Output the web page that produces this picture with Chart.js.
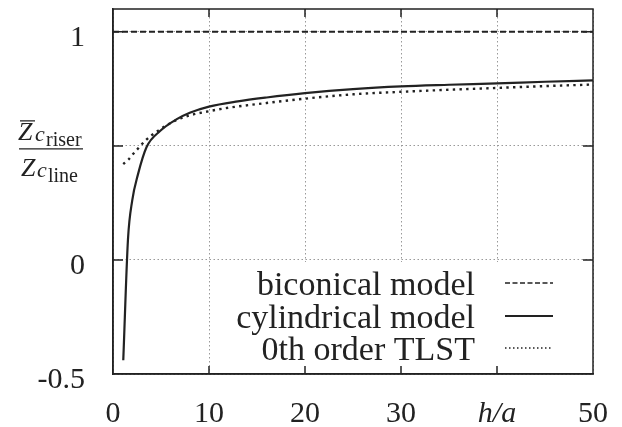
<!DOCTYPE html>
<html>
<head>
<meta charset="utf-8">
<script src="https://cdn.jsdelivr.net/npm/chart.js@4/dist/chart.umd.min.js"></script>
<style>
  html, body { margin: 0; padding: 0; background: #fff; }
  #wrap { width: 622px; height: 427px; }
</style>
</head>
<body>
<div id="wrap"><canvas id="chart" width="622" height="427"></canvas></div>
<script>
// h/a values and Zc ratio
let cylX = [1.07, 1.56, 2.0, 2.6, 3.5, 4.9, 6.6, 8, 10, 13, 16, 20, 25, 30, 35, 40, 45, 50];
let cylY = [-0.44, 0.09, 0.26, 0.375, 0.495, 0.565, 0.616, 0.645, 0.672, 0.695, 0.712, 0.731, 0.749, 0.761, 0.768, 0.774, 0.781, 0.787];
let tlstX = [1.07, 1.6, 2.0, 2.5, 3.0, 3.5, 4.0, 5.0, 6.6, 8, 10, 12, 15, 20, 25, 30, 35, 40, 45, 50];
let tlstY = [0.42, 0.44, 0.46, 0.483, 0.507, 0.528, 0.546, 0.575, 0.613, 0.634, 0.652, 0.667, 0.683, 0.707, 0.726, 0.737, 0.746, 0.754, 0.762, 0.769];
let biconX = [0, 50];
let biconY = [1, 1];

let xTicks = [0, 10, 20, 30, 40, 50];
let yTicks = [-0.5, 0, 0.5, 1];
let legendLabels = ["biconical model", "cylindrical model", "0th order TLST"];

const ink = '#222';
const serif = '"Liberation Serif", "DejaVu Serif", serif';

function pts(xs, ys) {
    return xs.map((x, i) => ({x: x, y: ys[i]}));
}

// gnuplot style frame, inner ticks, legend and the fraction label
const decor = {
    id: 'decor',
    beforeDatasetsDraw(chart) {
        const a = chart.chartArea, ctx = chart.ctx;
        let y0 = chart.scales.y.getPixelForValue(0);
        ctx.save();
        ctx.fillStyle = '#fff';
        ctx.fillRect(215, y0 + 2, a.right - 215 - 1, a.bottom - y0 - 3);
        ctx.restore();
    },
    afterDraw(chart) {
        const a = chart.chartArea, ctx = chart.ctx;
        const xs = chart.scales.x, ys = chart.scales.y;
        ctx.save();
        ctx.strokeStyle = ink;
        ctx.lineWidth = 1.5;
        ctx.strokeRect(a.left, a.top, a.right - a.left, a.bottom - a.top);
        ctx.beginPath();
        [10, 20, 30, 40].forEach(v => {
            let px = xs.getPixelForValue(v);
            ctx.moveTo(px, a.top); ctx.lineTo(px, a.top + 8);
            ctx.moveTo(px, a.bottom); ctx.lineTo(px, a.bottom - 8);
        });
        [0, 0.5, 1].forEach(v => {
            let py = ys.getPixelForValue(v);
            ctx.moveTo(a.left, py); ctx.lineTo(a.left + 10, py);
            ctx.moveTo(a.right, py); ctx.lineTo(a.right - 10, py);
        });
        ctx.stroke();

        // legend
        const rows = [285, 318, 350];
        const styles = [[5, 2.5], [], [1.5, 2.5]];
        ctx.fillStyle = ink;
        ctx.font = '34px ' + serif;
        ctx.textAlign = 'right';
        ctx.textBaseline = 'middle';
        legendLabels.forEach((t, i) => {
            ctx.fillText(t, 475, rows[i] + 1);
            ctx.beginPath();
            ctx.setLineDash(styles[i]);
            ctx.lineWidth = i === 1 ? 2 : 1.5;
            ctx.moveTo(505, rows[i] - 2); ctx.lineTo(553, rows[i] - 2);
            ctx.stroke();
        });
        ctx.setLineDash([]);

        // y label at 0.5: Zc_riser over Zc_line
        const bar = ys.getPixelForValue(0.5) + 3;
        ctx.textAlign = 'left';
        ctx.textBaseline = 'alphabetic';
        ctx.font = 'italic 26px ' + serif;
        ctx.fillText('Z', 18, bar - 9);
        ctx.font = 'italic 22px ' + serif;
        ctx.fillText('c', 35, bar - 8);
        ctx.font = '20px ' + serif;
        ctx.fillText('riser', 46, bar - 3);
        ctx.font = 'italic 26px ' + serif;
        ctx.fillText('Z', 21, bar + 27);
        ctx.font = 'italic 22px ' + serif;
        ctx.fillText('c', 37, bar + 28);
        ctx.font = '20px ' + serif;
        ctx.fillText('line', 48, bar + 33);
        ctx.lineWidth = 1.3;
        ctx.beginPath();
        ctx.moveTo(19, bar); ctx.lineTo(83, bar);
        ctx.moveTo(20, bar - 28); ctx.lineTo(35, bar - 28);
        ctx.stroke();
        ctx.restore();
    }
};

new Chart(document.getElementById('chart').getContext('2d'), {
    type: 'line',
    data: {
        datasets: [{
            label: legendLabels[0],
            data: pts(biconX, biconY),
            borderColor: ink,
            borderWidth: 2,
            borderDash: [6, 3],
            pointRadius: 0
        }, {
            label: legendLabels[1],
            data: pts(cylX, cylY),
            borderColor: ink,
            borderWidth: 2.2,
            pointRadius: 0,
            cubicInterpolationMode: 'monotone'
        }, {
            label: legendLabels[2],
            data: pts(tlstX, tlstY),
            borderColor: ink,
            borderWidth: 2.4,
            borderDash: [2.4, 4.3],
            pointRadius: 0,
            cubicInterpolationMode: 'monotone'
        }]
    },
    options: {
        responsive: false,
        animation: false,
        layout: {padding: {top: 9, right: 29, left: 0, bottom: 0}},
        plugins: {
            legend: {display: false},
            tooltip: {enabled: false}
        },
        scales: {
            x: {
                type: 'linear',
                min: 0,
                max: 50,
                afterBuildTicks: s => { s.ticks = xTicks.map(v => ({value: v})); },
                afterFit: s => { s.height = 53; s.paddingLeft = 0; s.paddingRight = 0; },
                grid: {color: '#999', lineWidth: 1, drawTicks: false},
                border: {display: true, color: ink, width: 1.5, dash: [1.5, 2.5]},
                ticks: {
                    color: ink,
                    padding: 22,
                    maxRotation: 0,
                    callback: v => v === 40 ? 'h/a' : String(v),
                    font: c => (c.tick && c.tick.value === 40)
                        ? {family: serif, size: 30, style: 'italic'}
                        : {family: serif, size: 30}
                }
            },
            y: {
                type: 'linear',
                min: -0.5,
                max: 1.1,
                afterBuildTicks: s => { s.ticks = yTicks.map(v => ({value: v})); },
                afterFit: s => { s.width = 113; s.paddingTop = 0; s.paddingBottom = 0; },
                grid: {color: '#999', lineWidth: 1, drawTicks: false},
                border: {display: true, color: ink, width: 1.5, dash: [1.5, 2.5]},
                ticks: {
                    color: ink,
                    padding: 28,
                    labelOffset: 6,
                    callback: v => v === 0.5 ? '' : String(v),
                    font: {family: serif, size: 30}
                }
            }
        }
    },
    plugins: [decor]
});
</script>
</body>
</html>
